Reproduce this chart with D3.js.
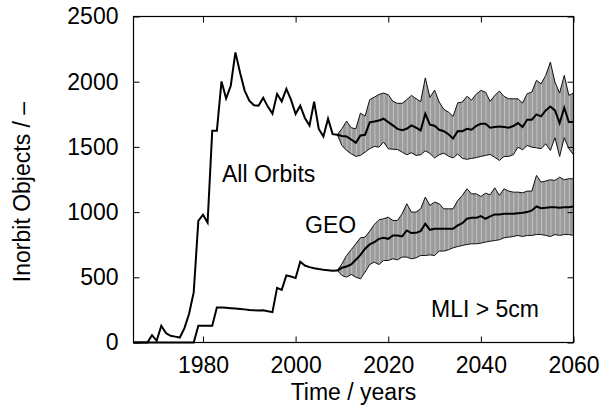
<!DOCTYPE html>
<html>
<head>
<meta charset="utf-8">
<script src="https://cdn.jsdelivr.net/npm/d3@7"></script>
<style>
  body { margin: 0; background: #fff; }
  text { font-family: "Liberation Sans", Arial, Helvetica, sans-serif; fill: #000; }
</style>
</head>
<body>
<svg id="chart" width="604" height="415"></svg>
<script>
// Recorded history, one value per year
const histYears = [1965,1966,1967,1968,1969,1970,1971,1972,1973,1974,
                   1975,1976,1977,1978,1979,1980,1981,1982,1983,1984,
                   1985,1986,1987,1988,1989,1990,1991,1992,1993,1994,
                   1995,1996,1997,1998,1999,2000,2001,2002,2003,2004,
                   2005,2006,2007,2008,2009];
const allHist = [0,0,0,0,56,13,128,72,51,45,
                 38,110,220,384,933,980,920,1624,1624,2002,
                 1872,1969,2225,2070,1932,1855,1820,1816,1876,1809,
                 1755,1906,1849,1945,1862,1753,1816,1722,1664,1846,
                 1638,1580,1716,1598,1593];
const geoHist = [0,0,0,0,0,0,0,0,0,0,
                 0,0,0,0,128,128,128,128,268,268,
                 266,263,260,257,254,250,247,245,247,240,
                 233,419,404,514,506,494,619,590,578,570,
                 563,558,554,550,552];

// Projection: mean and spread of the simulation runs
const projYears = [2009,2010,2011,2012,2013,2014,2015,2016,2017,2018,
                   2019,2020,2021,2022,2023,2024,2025,2026,2027,2028,
                   2029,2030,2031,2032,2033,2034,2035,2036,2037,2038,
                   2039,2040,2041,2042,2043,2044,2045,2046,2047,2048,
                   2049,2050,2051,2052,2053,2054,2055,2056,2057,2058,
                   2059,2060];
const allMean = [1593,1583,1580,1557,1532,1588,1593,1688,1695,1703,
                 1716,1690,1665,1638,1628,1639,1665,1647,1626,1754,
                 1670,1662,1631,1620,1597,1565,1621,1620,1639,1632,
                 1661,1677,1677,1647,1652,1657,1652,1647,1660,1683,
                 1652,1708,1708,1749,1734,1780,1810,1780,1683,1800,
                 1690,1690];
const allUpper = [1593,1639,1698,1647,1639,1759,1736,1862,1882,1902,
                  1913,1900,1850,1834,1834,1862,1895,1870,1847,2029,
                  1880,1935,1844,1788,1767,1734,1838,1844,1888,1859,
                  1905,1933,1920,1849,1895,1928,1887,1869,1869,1869,
                  1836,1908,1920,2010,1984,2048,2150,1997,1913,2048,
                  1895,1913];
const allLower = [1593,1511,1473,1447,1427,1435,1460,1486,1504,1498,
                  1537,1486,1482,1480,1460,1440,1455,1435,1440,1470,
                  1450,1415,1440,1452,1430,1415,1445,1412,1405,1412,
                  1418,1427,1435,1442,1420,1396,1427,1427,1440,1498,
                  1478,1511,1498,1493,1486,1524,1473,1570,1427,1570,
                  1486,1440];
const geoMean = [552,573,583,598,634,672,719,752,770,795,
                 803,795,821,821,813,859,839,841,854,910,
                 864,872,872,872,872,872,898,915,949,956,
                 956,969,949,967,982,982,987,987,987,992,
                 995,1000,1013,1043,1030,1033,1038,1038,1033,1038,
                 1038,1043];
const geoUpper = [552,603,667,711,757,803,808,854,905,941,
                  949,961,936,936,987,1064,1000,1000,1025,1115,
                  1051,1077,1064,1025,1025,1025,1089,1128,1179,1140,
                  1140,1120,1145,1133,1186,1128,1179,1161,1153,1153,
                  1148,1161,1161,1281,1230,1238,1248,1243,1268,1248,
                  1256,1256];
const geoLower = [552,514,501,522,501,488,540,598,616,598,
                  629,629,642,634,655,655,642,649,667,667,
                  672,667,701,701,711,726,736,744,752,757,
                  757,762,770,777,782,788,803,808,813,821,
                  813,821,821,828,828,821,813,828,821,828,
                  828,821];

const xTicks = [1980, 2000, 2020, 2040, 2060];
const yTicks = [0, 500, 1000, 1500, 2000, 2500];

const svg = d3.select("#chart");
const plotLeft = 133.5, plotRight = 573.5, plotTop = 16.5, plotBottom = 342.5;

const x = d3.scaleLinear().domain([1965, 2060]).range([plotLeft, plotRight]);
const y = d3.scaleLinear().domain([0, 2500]).range([plotBottom, plotTop]);

const plot = svg.append("g");

function drawBand(lower, upper, mean) {
  const rows = projYears.map((yr, i) => ({ yr, lo: lower[i], hi: upper[i], m: mean[i] }));
  const area = d3.area().x(d => x(d.yr)).y0(d => y(d.lo)).y1(d => y(d.hi));
  plot.append("path").datum(rows).attr("d", area).attr("fill", "#9b9b9b");
  // light vertical hatching, one stroke per projected year
  plot.append("g").selectAll("line").data(rows.slice(1, -1)).join("line")
    .attr("x1", d => x(d.yr) + 0.5).attr("x2", d => x(d.yr) + 0.5)
    .attr("y1", d => y(d.lo)).attr("y2", d => y(d.hi))
    .attr("stroke", "#c4c4c4").attr("stroke-width", 1);
  const edge = key => d3.line().x(d => x(d.yr)).y(d => y(d[key]));
  plot.append("path").datum(rows).attr("d", edge("hi"))
    .attr("fill", "none").attr("stroke", "#111").attr("stroke-width", 1);
  plot.append("path").datum(rows).attr("d", edge("lo"))
    .attr("fill", "none").attr("stroke", "#111").attr("stroke-width", 1);
  plot.append("path").datum(rows).attr("d", edge("m"))
    .attr("fill", "none").attr("stroke", "#000").attr("stroke-width", 2);
}

drawBand(allLower, allUpper, allMean);
drawBand(geoLower, geoUpper, geoMean);

const histLine = d3.line().x(d => x(d[0])).y(d => y(d[1]));
[allHist, geoHist].forEach(series => {
  plot.append("path")
    .datum(histYears.map((yr, i) => [yr, series[i]]))
    .attr("d", histLine)
    .attr("fill", "none").attr("stroke", "#000").attr("stroke-width", 2)
    .attr("stroke-linejoin", "miter");
});

// frame
svg.append("rect")
  .attr("x", plotLeft).attr("y", plotTop)
  .attr("width", plotRight - plotLeft).attr("height", plotBottom - plotTop)
  .attr("fill", "none").attr("stroke", "#000").attr("stroke-width", 1.2);

const fontSize = "23px";

const gx = svg.append("g").attr("transform", `translate(0,${plotBottom})`)
  .call(d3.axisBottom(x).tickValues(xTicks).tickFormat(d3.format("d"))
    .tickSizeInner(-6).tickSizeOuter(0).tickPadding(14));
const gxTop = svg.append("g").attr("transform", `translate(0,${plotTop})`)
  .call(d3.axisTop(x).tickValues(xTicks).tickFormat("")
    .tickSizeInner(-6).tickSizeOuter(0));
const gy = svg.append("g").attr("transform", `translate(${plotLeft},0)`)
  .call(d3.axisLeft(y).tickValues(yTicks).tickFormat(d3.format("d"))
    .tickSizeInner(-6).tickSizeOuter(0).tickPadding(15));
const gyRight = svg.append("g").attr("transform", `translate(${plotRight},0)`)
  .call(d3.axisRight(y).tickValues(yTicks).tickFormat("")
    .tickSizeInner(-6).tickSizeOuter(0));

[gx, gxTop, gy, gyRight].forEach(g => {
  g.select(".domain").remove();
  g.selectAll(".tick line").attr("stroke", "#000").attr("stroke-width", 1);
  g.selectAll("text").attr("font-family", null).style("font-size", fontSize).attr("fill", "#000");
});

// axis titles
svg.append("text")
  .attr("x", (plotLeft + plotRight) / 2).attr("y", 400)
  .attr("text-anchor", "middle").style("font-size", fontSize)
  .text("Time / years");
svg.append("text")
  .attr("transform", "translate(30,192) rotate(-90)")
  .attr("text-anchor", "middle").style("font-size", fontSize)
  .text("Inorbit Objects / –");

// series annotations
svg.append("text").attr("x", 222).attr("y", 182).style("font-size", fontSize).text("All Orbits");
svg.append("text").attr("x", 305).attr("y", 233).style("font-size", fontSize).text("GEO");
svg.append("text").attr("x", 431).attr("y", 317).style("font-size", fontSize).text("MLI > 5cm");
</script>
</body>
</html>
